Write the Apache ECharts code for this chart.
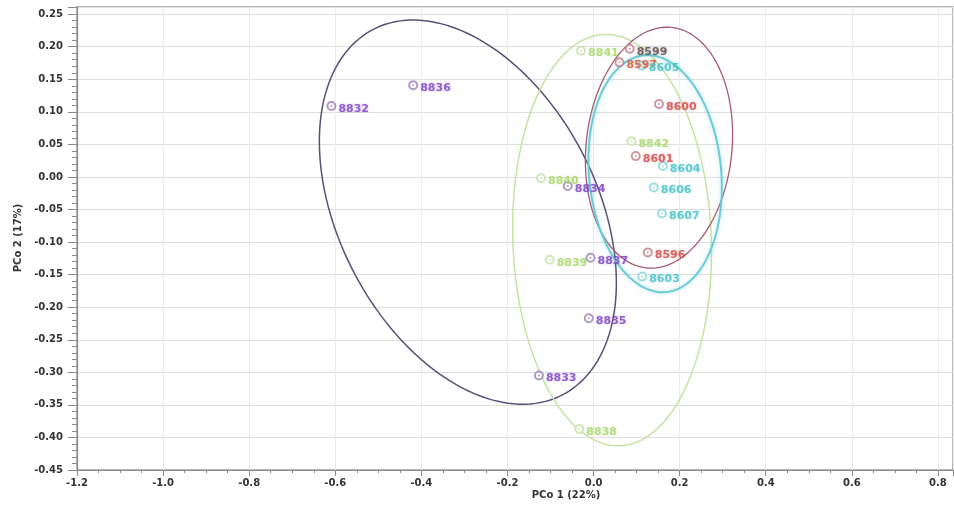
<!DOCTYPE html>
<html>
<head>
<meta charset="utf-8">
<script src="https://cdn.jsdelivr.net/npm/echarts@6/dist/echarts.min.js"></script>
<style>html,body{margin:0;padding:0;background:#fff;}#c{width:954px;height:508px;}</style>
</head>
<body>
<div id="c"></div>
<script>
// ---- data ----
const purpleNames = ['8832', '8836', '8834', '8837', '8835', '8833'];
const purpleX = [-0.609, -0.419, -0.060, -0.007, -0.011, -0.127];
const purpleY = [0.109, 0.141, -0.014, -0.124, -0.217, -0.305];

const greenNames = ['8841', '8842', '8840', '8839', '8838'];
const greenX = [-0.029, 0.088, -0.122, -0.102, -0.033];
const greenY = [0.194, 0.055, -0.002, -0.127, -0.387];

const redNames = ['8599', '8597', '8600', '8601', '8596'];
const redX = [0.084, 0.060, 0.152, 0.098, 0.126];
const redY = [0.197, 0.176, 0.112, 0.032, -0.116];

const cyanNames = ['8605', '8604', '8606', '8607', '8603'];
const cyanX = [0.112, 0.161, 0.140, 0.159, 0.113];
const cyanY = [0.171, 0.017, -0.016, -0.056, -0.153];

// ellipses: centre, half-extent in x, half-extent in y, correlation
const ellipseCx = [-0.292, 0.043, 0.152, 0.143];
const ellipseCy = [-0.054, -0.097, 0.045, 0.005];
const ellipseHalfW = [0.345, 0.231, 0.171, 0.155];
const ellipseHalfH = [0.295, 0.316, 0.185, 0.182];
const ellipseRho = [-0.368, -0.06, 0.109, -0.113];

// ---- styles ----
const ellipseColors = ['#5a4f78', '#c6e3a4', '#a85a70', '#6ccbd8'];
const ellipseWidths = [1.5, 1.5, 1.3, 2];
const labelColorOverride = { '8599': '#5a4646', '8597': '#d0583a' };

const FONT = 'DejaVu Sans';

function pts(names, xs, ys) {
  return names.map((n, i) => ({ name: n, value: [xs[i], ys[i]] }));
}

function scatterSeries(names, xs, ys, markerColor, labelColor) {
  const data = pts(names, xs, ys).map(d => {
    const c = labelColorOverride[d.name] || labelColor;
    return Object.assign(d, {
      label: { color: c, textShadowColor: c + '66' }
    });
  });
  return [{
    type: 'scatter',
    data: data,
    symbol: 'emptyCircle',
    symbolSize: 8,
    z: 3,
    itemStyle: { color: markerColor, borderColor: markerColor, borderWidth: 1 },
    label: {
      show: true,
      formatter: '{b}',
      position: 'right',
      distance: 2,
      offset: [0, 3],
      fontFamily: FONT,
      fontWeight: 'bold',
      fontSize: 11,
      textShadowBlur: 3
    },
    emphasis: { disabled: true },
    silent: true
  }, {
    type: 'scatter',
    data: pts(names, xs, ys),
    symbol: 'circle',
    symbolSize: 2,
    z: 3,
    itemStyle: { color: markerColor },
    silent: true
  }];
}

const ellipseData = ellipseCx.map((cx, i) => [cx, ellipseCy[i], ellipseHalfW[i], ellipseHalfH[i], ellipseRho[i], i]);

const chart = echarts.init(document.getElementById('c'), null, { renderer: 'canvas' });

const axisLabelStyle = { fontFamily: FONT, fontWeight: 'bold', fontSize: 10, color: '#333' };

chart.setOption({
  animation: false,
  backgroundColor: '#fff',
  grid: { left: 77, right: 1, top: 7, bottom: 38, show: true, borderColor: '#a0a0a0', borderWidth: 1.5 },
  xAxis: {
    type: 'value',
    min: -1.2, max: 0.835, interval: 0.2,
    axisLine: { show: true, onZero: false, lineStyle: { color: '#8a8a8a', width: 1.2 } },
    axisTick: { show: true, length: 6, lineStyle: { color: '#8a8a8a' } },
    minorTick: { show: true, splitNumber: 4, length: 3, lineStyle: { color: '#8a8a8a' } },
    splitLine: { show: true, lineStyle: { color: '#ececec', width: 1 } },
    axisLabel: Object.assign({ margin: 8, showMaxLabel: false, formatter: v => v.toFixed(1) }, axisLabelStyle)
  },
  yAxis: {
    type: 'value',
    min: -0.45, max: 0.261, interval: 0.05,
    axisLine: { show: true, onZero: false, lineStyle: { color: '#8a8a8a', width: 1.2 } },
    axisTick: { show: true, length: 9, lineStyle: { color: '#8a8a8a' } },
    minorTick: { show: true, splitNumber: 5, length: 5, lineStyle: { color: '#8a8a8a' } },
    splitLine: { show: true, lineStyle: { color: '#dedede', width: 1 } },
    axisLabel: Object.assign({ margin: 14, showMaxLabel: false, formatter: v => v.toFixed(2) }, axisLabelStyle)
  },
  graphic: [
    { type: 'text', x: 566, y: 495, style: { text: 'PCo 1 (22%)', font: 'bold 10px "DejaVu Sans"', fill: '#333', textAlign: 'center', textVerticalAlign: 'middle' } },
    { type: 'text', x: 18, y: 238, rotation: Math.PI / 2, style: { text: 'PCo 2 (17%)', font: 'bold 10px "DejaVu Sans"', fill: '#333', textAlign: 'center', textVerticalAlign: 'middle' } }
  ],
  series: [
    {
      type: 'custom',
      data: ellipseData,
      encode: { x: 0, y: 1 },
      z: 2,
      silent: true,
      renderItem: function (params, api) {
        const cx = api.value(0), cy = api.value(1), w = api.value(2), h = api.value(3), r = api.value(4);
        const k = api.value(5);
        const s = Math.sqrt(1 - r * r);
        const points = [];
        const N = 160;
        for (let j = 0; j <= N; j++) {
          const t = 2 * Math.PI * j / N;
          points.push(api.coord([cx + w * Math.cos(t), cy + h * (r * Math.cos(t) + s * Math.sin(t))]));
        }
        const col = ellipseColors[k];
        return {
          type: 'polyline',
          shape: { points: points },
          style: {
            fill: null, stroke: col, lineWidth: ellipseWidths[k],
            shadowBlur: k === 3 ? 4 : 0, shadowColor: k === 3 ? 'rgba(108,203,216,0.5)' : 'transparent'
          }
        };
      }
    },
    ...scatterSeries(purpleNames, purpleX, purpleY, '#9a80bc', '#7a3fc0'),
    ...scatterSeries(greenNames, greenX, greenY, '#c4e2a4', '#a6d66a'),
    ...scatterSeries(redNames, redX, redY, '#c27a8c', '#d04444'),
    ...scatterSeries(cyanNames, cyanX, cyanY, '#86d2dc', '#3fbfc8')
  ]
});
</script>
</body>
</html>
